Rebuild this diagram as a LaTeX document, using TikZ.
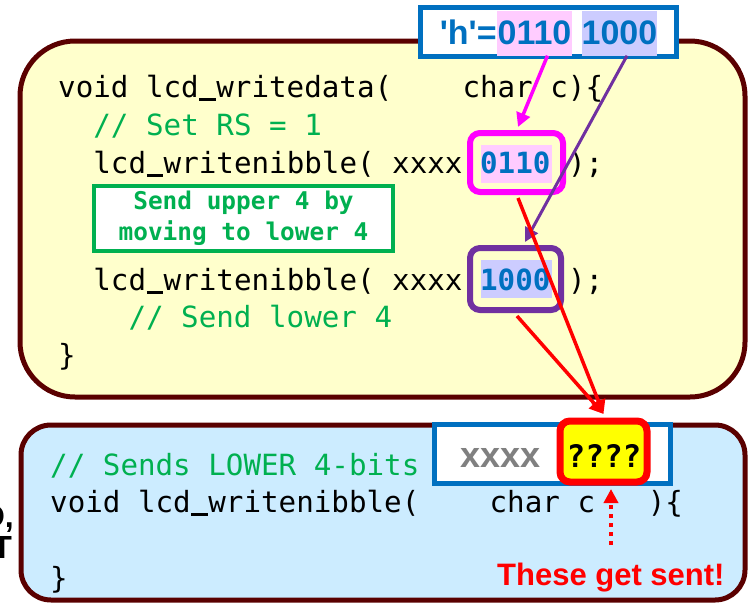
\documentclass[tikz,border=0pt]{standalone}
\usepackage{fontspec}
\setmainfont{Liberation Sans}
\newfontfamily\codefont{DejaVu Sans Mono}
\usetikzlibrary{arrows.meta,calc}

\definecolor{framebrown}{HTML}{5A0000}
\definecolor{paleyellow}{HTML}{FFFFCC}
\definecolor{paleblue}{HTML}{CCECFF}
\definecolor{codegreen}{HTML}{00B050}
\definecolor{codeblue}{HTML}{0070C0}
\definecolor{hlpink}{HTML}{FFCCFF}
\definecolor{hlviolet}{HTML}{CCCCFF}
\definecolor{magentaline}{HTML}{FF00FF}
\definecolor{purpleline}{HTML}{7030A0}
\definecolor{alertred}{HTML}{FF0000}
\definecolor{hilite}{HTML}{FFFF00}
\definecolor{greytext}{HTML}{808080}

% underscore as a ruled cell one monospace character wide
\newcommand{\us}{\makebox[0.602em][c]{\rule[-0.12em]{0.56em}{0.07em}}}

\begin{document}
\begin{tikzpicture}[x=1pt,y=-1pt,
  panel/.style={draw=framebrown, line width=5pt},
  code/.style={anchor=base west, inner sep=0pt, text=black,
    font=\codefont\fontsize{29.2}{35}\selectfont},
  comment/.style={code, text=codegreen},
  hl/.style={inner sep=0pt, minimum width=71pt, minimum height=38pt},
  valbox/.style={draw, line width=6pt, rounded corners=10pt, inner sep=0pt},
  bitslabel/.style={inner sep=0pt, minimum width=75pt, minimum height=45pt,
    text=codeblue, font=\bfseries\fontsize{34}{40}\selectfont},
  pointer/.style={line width=3.5pt,
    -{Triangle[length=14pt,width=14pt]}},
]
\useasboundingbox (0,0) rectangle (750,603);

% the two function panels
\draw[panel, fill=paleyellow, rounded corners=55pt] (20,41) rectangle (745,397);
\draw[panel, fill=paleblue, rounded corners=30pt] (21,425) rectangle (745,600);

% value of 'h' split into its two nibbles
\node[draw=codeblue, line width=5pt, fill=white, inner sep=0pt,
      minimum width=256pt, minimum height=49pt] (hbox) at (548,31.5) {};
\node[bitslabel, fill=hlpink] (hpink) at (534.5,33) {0110};
\node[bitslabel, fill=hlviolet] (hviolet) at (619.5,33) {1000};
\node[anchor=base east, inner sep=0pt, text=codeblue,
      font=\bfseries\fontsize{34}{40}\selectfont] (hname) at (hpink.base west)
      {\textquotesingle h\textquotesingle=};

% highlighted nibbles inside the code
\node[hl, fill=hlpink] (hlup) at (516.5,164) {};
\node[hl, fill=hlviolet] (hllow) at (516.5,279) {};

% lcd_writedata
\node[code] (c1) at (58,97) {void lcd\us writedata(\ \ \ \ char c)\{};
\node[comment] (c2) at (93.2,135) {// Set RS = 1};
\node[code] (c3) at (93.2,173) {lcd\us writenibble( xxxx {\bfseries\color{codeblue}0110} );};
\node[code] (c4) at (93.2,290) {lcd\us writenibble( xxxx {\bfseries\color{codeblue}1000} );};
\node[comment] (c5) at (128.3,327) {// Send lower 4};
\node[code] (c6) at (58,365) {\}};

% note box
\node[draw=codegreen, line width=4pt, fill=white, inner sep=0pt,
      minimum width=299pt, minimum height=65pt, text=codegreen, align=center,
      font=\codefont\bfseries\fontsize{24.4}{31}\selectfont] (note) at (243.5,218.5)
      {Send upper 4 by\\moving to lower 4};

% frames round the nibbles
\node[valbox, draw=magentaline, minimum width=93pt, minimum height=59pt] (upbox) at (516.5,162.5) {};
\node[valbox, draw=purpleline, minimum width=91pt, minimum height=62pt] (lowbox) at (515.5,279) {};

% lcd_writenibble
\node[comment] (b1) at (50,475) {// Sends LOWER 4-bits};
\node[code] (b2) at (50,512) {void lcd\us writenibble(\ \ \ \ char c\ \ \ )\{};
\node[code] (b3) at (50,588) {\}};

% the byte that lcd_writenibble receives
\node[draw=codeblue, line width=5pt, fill=white, inner sep=0pt,
      minimum width=236pt, minimum height=59pt] (argbox) at (552,453.5) {};
\node[anchor=base west, inner sep=0pt, text=greytext,
      font=\bfseries\fontsize{36}{40}\selectfont] (xs) at (460,467) {xxxx};
\node[valbox, draw=alertred, line width=7pt, fill=hilite,
      minimum width=87pt, minimum height=61pt] (sentbox) at (603.5,451.5) {};
\node[anchor=base, inner sep=0pt,
      font=\codefont\bfseries\fontsize{31}{36}\selectfont] (qs) at (604,467) {????};

% where each nibble comes from
\draw[pointer, magentaline] ([xshift=13pt]hpink.south) -- ([xshift=1.5pt,yshift=3pt]upbox.north);
\draw[pointer, purpleline, line width=3pt] ([xshift=7.5pt]hviolet.south) -- ([xshift=9.5pt,yshift=3pt]lowbox.north);
\draw[pointer, alertred] ([xshift=1.5pt,yshift=-3pt]upbox.south) -- ([yshift=3.5pt]sentbox.north);
\draw[pointer, alertred] ([xshift=1.5pt,yshift=-3pt]lowbox.south) -- ([yshift=3.5pt]sentbox.north);

% caption
\node[anchor=base west, inner sep=0pt, text=alertred,
      font=\bfseries\fontsize{31}{36}\selectfont] (sent) at (497,585) {These get sent!};
\coordinate (dotfoot) at (611,545);
\draw[alertred, line width=4pt, dash pattern=on 4pt off 5pt,
      -{Triangle[length=14pt,width=14pt]}, shorten >=3.5pt]
      (dotfoot) -- (sentbox.south -| dotfoot);

% text running in from the left edge
\begin{scope}
\clip (0,0) rectangle (750,603);
\node[anchor=base east, inner sep=0pt, font=\bfseries\fontsize{32}{36}\selectfont] (edgeA) at (14,527) {D,};
\node[anchor=base east, inner sep=0pt, font=\bfseries\fontsize{32}{36}\selectfont] (edgeB) at (12,558) {T};
\end{scope}
\end{tikzpicture}
\end{document}
